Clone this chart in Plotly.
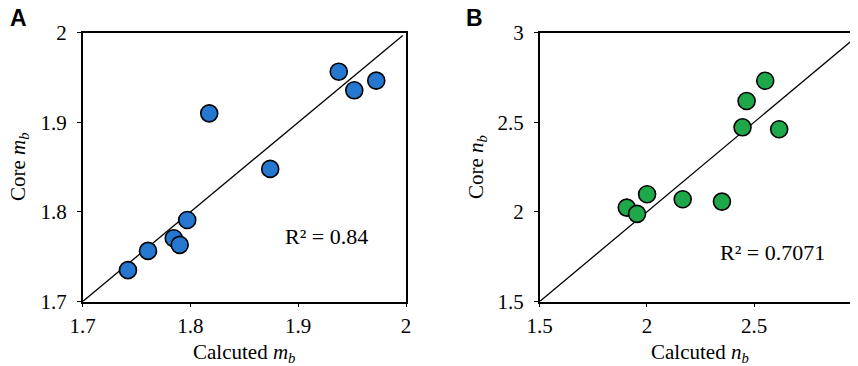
import plotly.graph_objects as go

# Panel A data
calc_mb = [1.742, 1.7606, 1.7845, 1.790, 1.797, 1.8174, 1.874, 1.9376, 1.952, 1.9724]
core_mb = [1.735, 1.7565, 1.7706, 1.7632, 1.791, 1.910, 1.848, 1.9565, 1.9357, 1.9465]
# Panel B data
calc_nb = [1.906, 1.954, 2.001, 2.167, 2.350, 2.446, 2.465, 2.552, 2.617]
core_nb = [2.024, 1.989, 2.0985, 2.0706, 2.0576, 2.472, 2.619, 2.732, 2.461]

a_ticks = [1.7, 1.8, 1.9, 2.0]
a_ticktext = ["1.7", "1.8", "1.9", "2"]
b_ticks = [1.5, 2.0, 2.5, 3.0]
b_ticktext = ["1.5", "2", "2.5", "3"]
a_range = [1.7, 2.0]
b_range = [1.5, 3.0]
a_line = [1.7, 1.997]
b_line = [1.5, 2.99]

W, H = 858, 366
FONT = "Liberation Serif"

fig = go.Figure()

fig.add_trace(go.Scatter(x=a_line, y=a_line, mode="lines",
                         line=dict(color="black", width=1.3),
                         xaxis="x", yaxis="y", showlegend=False, hoverinfo="skip"))
fig.add_trace(go.Scatter(x=calc_mb, y=core_mb, mode="markers",
                         marker=dict(size=17, color="#2577CF", line=dict(color="black", width=1.6)),
                         xaxis="x", yaxis="y", showlegend=False))
fig.add_trace(go.Scatter(x=b_line, y=b_line, mode="lines",
                         line=dict(color="black", width=1.3),
                         xaxis="x2", yaxis="y2", showlegend=False, hoverinfo="skip"))
fig.add_trace(go.Scatter(x=calc_nb, y=core_nb, mode="markers",
                         marker=dict(size=17, color="#1FA84A", line=dict(color="black", width=1.6)),
                         xaxis="x2", yaxis="y2", showlegend=False))

ydom = [(H - 293.5) / H, (H - 24.7) / H]
axis_common = dict(showgrid=False, zeroline=False, showline=True, linecolor="black",
                   linewidth=1.5, mirror=True, ticks="outside", ticklen=4, tickwidth=1,
                   tickcolor="black", automargin=False, ticklabeloverflow="allow",
                   tickfont=dict(family=FONT, size=21, color="black"))

fig.update_layout(
    width=W, height=H,
    margin=dict(l=0, r=0, t=0, b=0),
    paper_bgcolor="white", plot_bgcolor="white",
    xaxis=dict(domain=[74.7 / W, 398 / W], range=a_range, tickvals=a_ticks, ticktext=a_ticktext,
               anchor="y", ticklabelstandoff=1, **axis_common),
    yaxis=dict(domain=ydom, range=a_range, tickvals=a_ticks, ticktext=a_ticktext,
               anchor="x", ticklabelstandoff=6, **axis_common),
    xaxis2=dict(domain=[531.7 / W, 853.3 / W], range=b_range, tickvals=b_ticks, ticktext=b_ticktext,
                anchor="y2", ticklabelstandoff=1, **axis_common),
    yaxis2=dict(domain=ydom, range=b_range, tickvals=b_ticks, ticktext=b_ticktext,
                anchor="x2", ticklabelstandoff=6, **axis_common),
)

def ann(text, x, y, size, rot=0, family=FONT, xanchor="center", yanchor="middle"):
    fig.add_annotation(text=text, x=x / W, y=1 - y / H, xref="paper", yref="paper",
                       showarrow=False, textangle=rot, xanchor=xanchor, yanchor=yanchor,
                       font=dict(family=family, size=size, color="black"))

ann("Calcuted <i>m<sub>b</sub></i>", 236, 345, 21)
ann("Calcuted <i>n<sub>b</sub></i>", 692, 345, 21)
ann("Core <i>m<sub>b</sub></i>", 11, 159, 21, rot=-90)
ann("Core <i>n<sub>b</sub></i>", 469, 159, 21, rot=-90)
ann("R² = 0.84", 318, 228, 22)
ann("R² = 0.7071", 764, 244, 22)
ann("<b>A</b>", 10, 10, 23, family="Liberation Sans")
ann("<b>B</b>", 466, 10, 23, family="Liberation Sans")

fig.write_html("out.html")
